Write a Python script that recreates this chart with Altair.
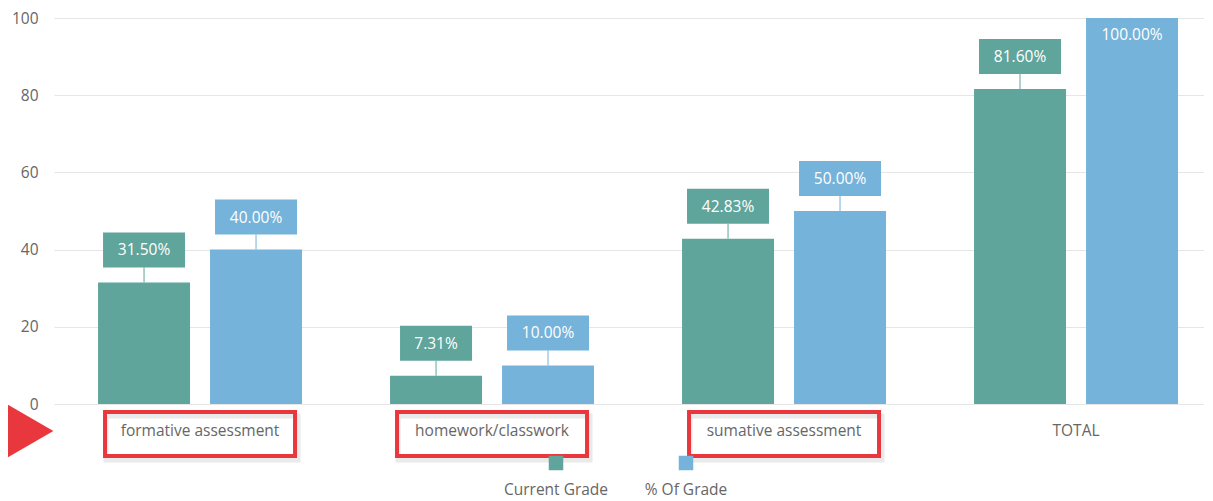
import altair as alt
import pandas as pd

categories = ["formative assessment", "homework/classwork", "sumative assessment", "TOTAL"]
current_grade = [31.50, 7.31, 42.83, 81.60]
pct_of_grade = [40.00, 10.00, 50.00, 100.00]
series_names = ["Current Grade", "% Of Grade"]
highlighted = ["formative assessment", "homework/classwork", "sumative assessment"]
y_ticks = [0, 20, 40, 60, 80, 100]

FONT = "Open Sans"
TEAL = "#5fa59b"
BLUE = "#75b3da"
RED = "#e8383d"
GRAY = "#666666"

rows = []
for c, a, b in zip(categories, current_grade, pct_of_grade):
    rows.append({"category": c, "series": series_names[0], "value": a})
    rows.append({"category": c, "series": series_names[1], "value": b})
df = pd.DataFrame(rows)
df["label"] = df["value"].map(lambda v: f"{v:.2f}%")
df["boxw"] = df["label"].str.len() * 10 + 22

color = alt.Color("series:N", scale=alt.Scale(domain=series_names, range=[TEAL, BLUE]), legend=None)

x = alt.X(
    "category:N", sort=categories, title=None,
    scale=alt.Scale(paddingInner=0.3014, paddingOuter=0.1199, align=0.629),
    axis=alt.Axis(labelAngle=0, labelPadding=19, ticks=False, domain=False,
                  labelFont=FONT, labelFontSize=15.5, labelColor=GRAY, grid=False),
)
xo = alt.XOffset("series:N", sort=series_names, scale=alt.Scale(paddingInner=0.1786, paddingOuter=0))
y = alt.Y(
    "value:Q", title=None, scale=alt.Scale(domain=[0, 100]),
    axis=alt.Axis(values=y_ticks, ticks=False, domain=False, labelFont=FONT, labelFontSize=15.5,
                  labelColor=GRAY, labelPadding=16, gridColor="#e6e6e6"),
)

base = alt.Chart(df)
bars = base.mark_bar().encode(x=x, xOffset=xo, y=y, color=color)

outside = base.transform_filter("datum.value < 95")
boxes = outside.mark_bar(yOffset=-50, y2Offset=-15).encode(
    x=x, xOffset=xo, y="value:Q", y2="value:Q", color=color,
    size=alt.Size("boxw:Q", scale=None),
)
rules = outside.mark_rule(strokeWidth=1, y2Offset=-15).encode(
    x=x, xOffset=xo, y="value:Q", y2="value:Q", color=color,
)
texts = outside.mark_text(color="white", font=FONT, fontSize=15.5, yOffset=-32, baseline="middle").encode(
    x=x, xOffset=xo, y="value:Q", text="label:N",
)
inside = base.transform_filter("datum.value >= 95").mark_text(
    color="white", font=FONT, fontSize=15.5, yOffset=17, baseline="middle"
).encode(x=x, xOffset=xo, y="value:Q", text="label:N")

hl_df = pd.DataFrame({"category": highlighted})
hl_shadow = alt.Chart(hl_df).mark_bar(filled=False, stroke="#888888", strokeOpacity=0.18,
                                       strokeWidth=5, width=192, xOffset=2, yOffset=4, y2Offset=4).encode(
    x=alt.X("category:N", sort=categories), y=alt.value(394), y2=alt.value(438))
hl = alt.Chart(hl_df).mark_bar(filled=False, stroke=RED, strokeWidth=4, width=190).encode(
    x=alt.X("category:N", sort=categories), y=alt.value(394), y2=alt.value(438))

arrow = alt.Chart(pd.DataFrame({"a": [1]})).mark_point(
    shape="triangle-right", filled=True, color=RED, opacity=1, size=4600
).encode(x=alt.value(-30), y=alt.value(413))

legend_layers = []
legend_x = [502, 632]
for s, px in zip(series_names, legend_x):
    ld = pd.DataFrame({"series": [s]})
    legend_layers.append(alt.Chart(ld).mark_square(size=210, opacity=1).encode(
        x=alt.value(px), y=alt.value(445), color=color))
    legend_layers.append(alt.Chart(ld).mark_text(font=FONT, fontSize=15.5, color=GRAY, baseline="middle").encode(
        x=alt.value(px), y=alt.value(472), text="series:N"))

chart = alt.layer(bars, rules, boxes, texts, inside, hl_shadow, hl, arrow, *legend_layers).properties(
    width=1150, height=386,
    autosize=alt.AutoSizeParams(type="none"),
    padding={"left": 46, "top": 10, "right": 0, "bottom": 96},
    background="white",
).configure_view(stroke=None)

chart.save("out.html", embed_options={"renderer": "svg", "actions": False})
